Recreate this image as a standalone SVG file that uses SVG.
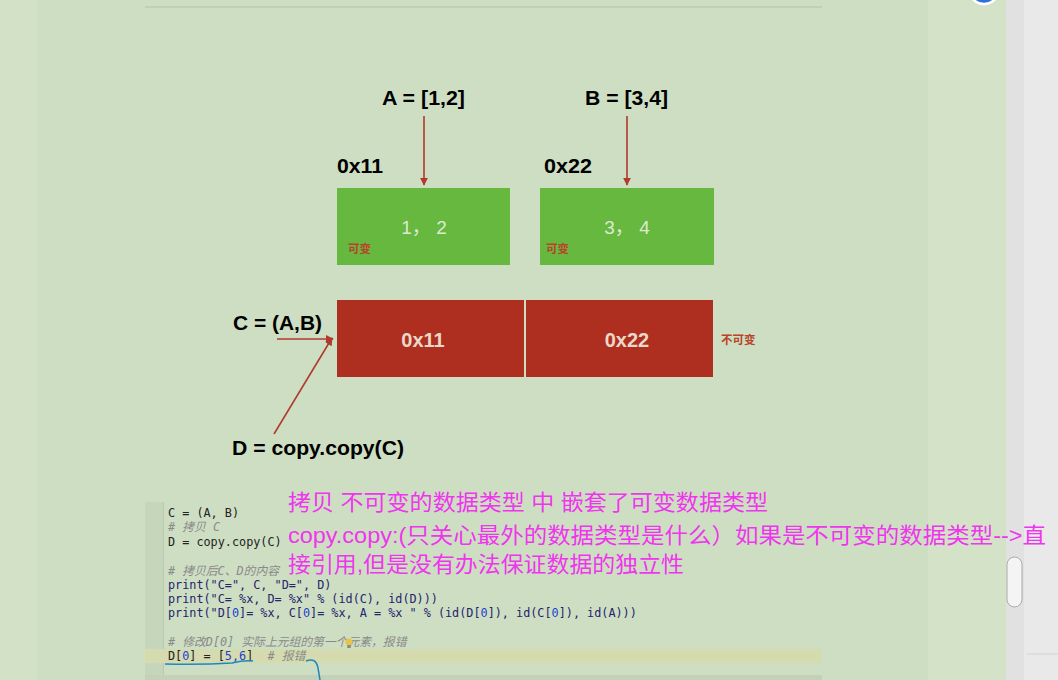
<svg xmlns="http://www.w3.org/2000/svg" width="1058" height="680" viewBox="0 0 1058 680">
<defs>
<style>
.lbl{font-family:"Liberation Sans",Arial,sans-serif;font-weight:bold;fill:#000;}
.box1{fill:#67b83f;}
.box2{fill:#ae2f1f;}
.inner{font-family:"Liberation Sans","Noto Sans CJK SC",sans-serif;fill:#dde9d4;font-size:19px;text-anchor:middle;}
.inner2{font-family:"Liberation Sans",Arial,sans-serif;font-weight:bold;fill:#ead9c8;font-size:20px;text-anchor:middle;}
.tag{font-family:"Noto Sans CJK SC",sans-serif;font-weight:bold;font-size:11.5px;fill:#b8432a;}
.conn{stroke:#b03a2e;stroke-width:1.6;fill:none;}
.code{font-family:"DejaVu Sans Mono","Noto Sans CJK SC",monospace;font-size:11.8px;fill:#222;white-space:pre;}
.cm{fill:#8a8a8a;font-style:italic;}
.pr{fill:#25246e;}
.num{fill:#1f3fd0;}
.mag{font-family:"Liberation Sans","Noto Sans CJK SC",sans-serif;font-size:22px;fill:#ee36ee;}
</style>
<marker id="ah" viewBox="0 0 10 10" refX="9" refY="5" markerWidth="8" markerHeight="8" markerUnits="userSpaceOnUse" orient="auto">
<path d="M0,0 L10,5 L0,10 z" fill="#b03a2e"/>
</marker>
</defs>
<!-- backgrounds -->
<rect x="0" y="0" width="1058" height="680" fill="#cedec2"/>
<rect x="0" y="0" width="37" height="680" fill="#d3e2c6"/>
<rect x="928" y="0" width="78" height="680" fill="#d4e2c8"/>
<rect x="1006" y="0" width="18" height="680" fill="#e1e1e1"/>
<rect x="1024" y="0" width="34" height="680" fill="#e9e9e9"/>
<line x1="1027" y1="654" x2="1058" y2="654" stroke="#d2d2d2" stroke-width="1"/>
<rect x="1007" y="557" width="15" height="50" rx="7.5" fill="#f4f4f4" stroke="#a8a8a8" stroke-width="1"/>
<circle cx="984" cy="-11" r="15" fill="#2f6fe0" stroke="#ffffff" stroke-width="2.5"/>
<line x1="145" y1="7" x2="822" y2="7" stroke="#bfd0b3" stroke-width="2"/>

<!-- code editor -->
<g id="editor">
<rect x="145" y="502" width="18" height="173" fill="#c6d6ba"/>
<line x1="163.5" y1="502" x2="163.5" y2="675" stroke="#b9c9ad" stroke-width="1"/>
<rect x="145" y="649" width="677" height="14" fill="#d5dbae"/>
<rect x="145" y="675" width="677" height="5" fill="#c3d1b8"/>
<text class="code" x="168" y="517">C = (A, B)</text>
<text class="code cm" x="168" y="531"># 拷贝 C</text>
<text class="code" x="168" y="546">D = copy.copy(C)</text>
<text class="code cm" x="168" y="575"># 拷贝后C、D的内容</text>
<text class="code pr" x="168" y="589">print("C=", C, "D=", D)</text>
<text class="code pr" x="168" y="603">print("C= %x, D= %x" % (id(C), id(D)))</text>
<text class="code pr" x="168" y="617">print("D[<tspan class="num">0</tspan>]= %x, C[<tspan class="num">0</tspan>]= %x, A = %x " % (id(D[<tspan class="num">0</tspan>]), id(C[<tspan class="num">0</tspan>]), id(A)))</text>
<text class="code cm" x="168" y="646"># 修改D[0] 实际上元组的第一个元素，报错</text>
<text class="code" x="168" y="660" xml:space="preserve">D[<tspan class="num">0</tspan>] = [<tspan class="num">5,6</tspan>]  <tspan class="cm"># 报错</tspan></text>
<g id="bulb">
<circle cx="349" cy="642" r="3.6" fill="#e9c34a"/>
<rect x="347.3" y="645" width="3.4" height="3" fill="#8a8a7a"/>
</g>
<path d="M165,664 Q200,665 232,663 Q244,660 253,661" fill="none" stroke="#1a8ac0" stroke-width="1.5"/>
<path d="M306,661 Q316,657 318,668 L320,680" fill="none" stroke="#1a8ac0" stroke-width="1.5"/>
</g>

<!-- nodes -->
<g id="labelA"><text class="lbl" x="382" y="105" font-size="20" textLength="83" lengthAdjust="spacingAndGlyphs">A = [1,2]</text></g>
<g id="labelB"><text class="lbl" x="585" y="105" font-size="20" textLength="83" lengthAdjust="spacingAndGlyphs">B = [3,4]</text></g>
<g id="addr11"><text class="lbl" x="337" y="173" font-size="19.5" textLength="46" lengthAdjust="spacingAndGlyphs">0x11</text></g>
<g id="addr22"><text class="lbl" x="544" y="173" font-size="19.5" textLength="48" lengthAdjust="spacingAndGlyphs">0x22</text></g>
<g id="listA">
<rect class="box1" x="337" y="188" width="173" height="77"/>
<text class="inner" x="424" y="234">1， 2</text>
<text class="tag" x="348" y="253">可变</text>
</g>
<g id="listB">
<rect class="box1" x="540" y="188" width="174" height="77"/>
<text class="inner" x="627" y="234">3， 4</text>
<text class="tag" x="546" y="253">可变</text>
</g>
<g id="tupleC">
<rect class="box2" x="337" y="300" width="187" height="77"/>
<rect class="box2" x="526" y="300" width="187" height="77"/>
<text class="inner2" x="423" y="347">0x11</text>
<text class="inner2" x="627" y="347">0x22</text>
<text class="tag" x="721" y="344" fill="#c0392b">不可变</text>
</g>
<g id="labelC"><text class="lbl" x="233" y="330" font-size="20" textLength="89" lengthAdjust="spacingAndGlyphs">C = (A,B)</text></g>
<g id="labelD"><text class="lbl" x="232" y="455" font-size="20" textLength="172" lengthAdjust="spacingAndGlyphs">D = copy.copy(C)</text></g>

<g id="connectors">
<line class="conn" x1="424" y1="116" x2="424" y2="185" marker-end="url(#ah)"/>
<line class="conn" x1="627" y1="116" x2="627" y2="185" marker-end="url(#ah)"/>
<line class="conn" x1="277" y1="339" x2="333" y2="339" marker-end="url(#ah)"/>
<line class="conn" x1="274" y1="434" x2="332" y2="338" marker-end="url(#ah)"/>
</g>

<!-- annotation -->
<g id="note">
<text class="mag" x="288" y="510" textLength="480" lengthAdjust="spacingAndGlyphs">拷贝 不可变的数据类型 中 嵌套了可变数据类型</text>
<text class="mag" x="288" y="543" textLength="758" lengthAdjust="spacingAndGlyphs">copy.copy:(只关心最外的数据类型是什么）如果是不可变的数据类型--&gt;直</text>
<text class="mag" x="288" y="572" textLength="396" lengthAdjust="spacingAndGlyphs">接引用,但是没有办法保证数据的独立性</text>
</g>
</svg>
